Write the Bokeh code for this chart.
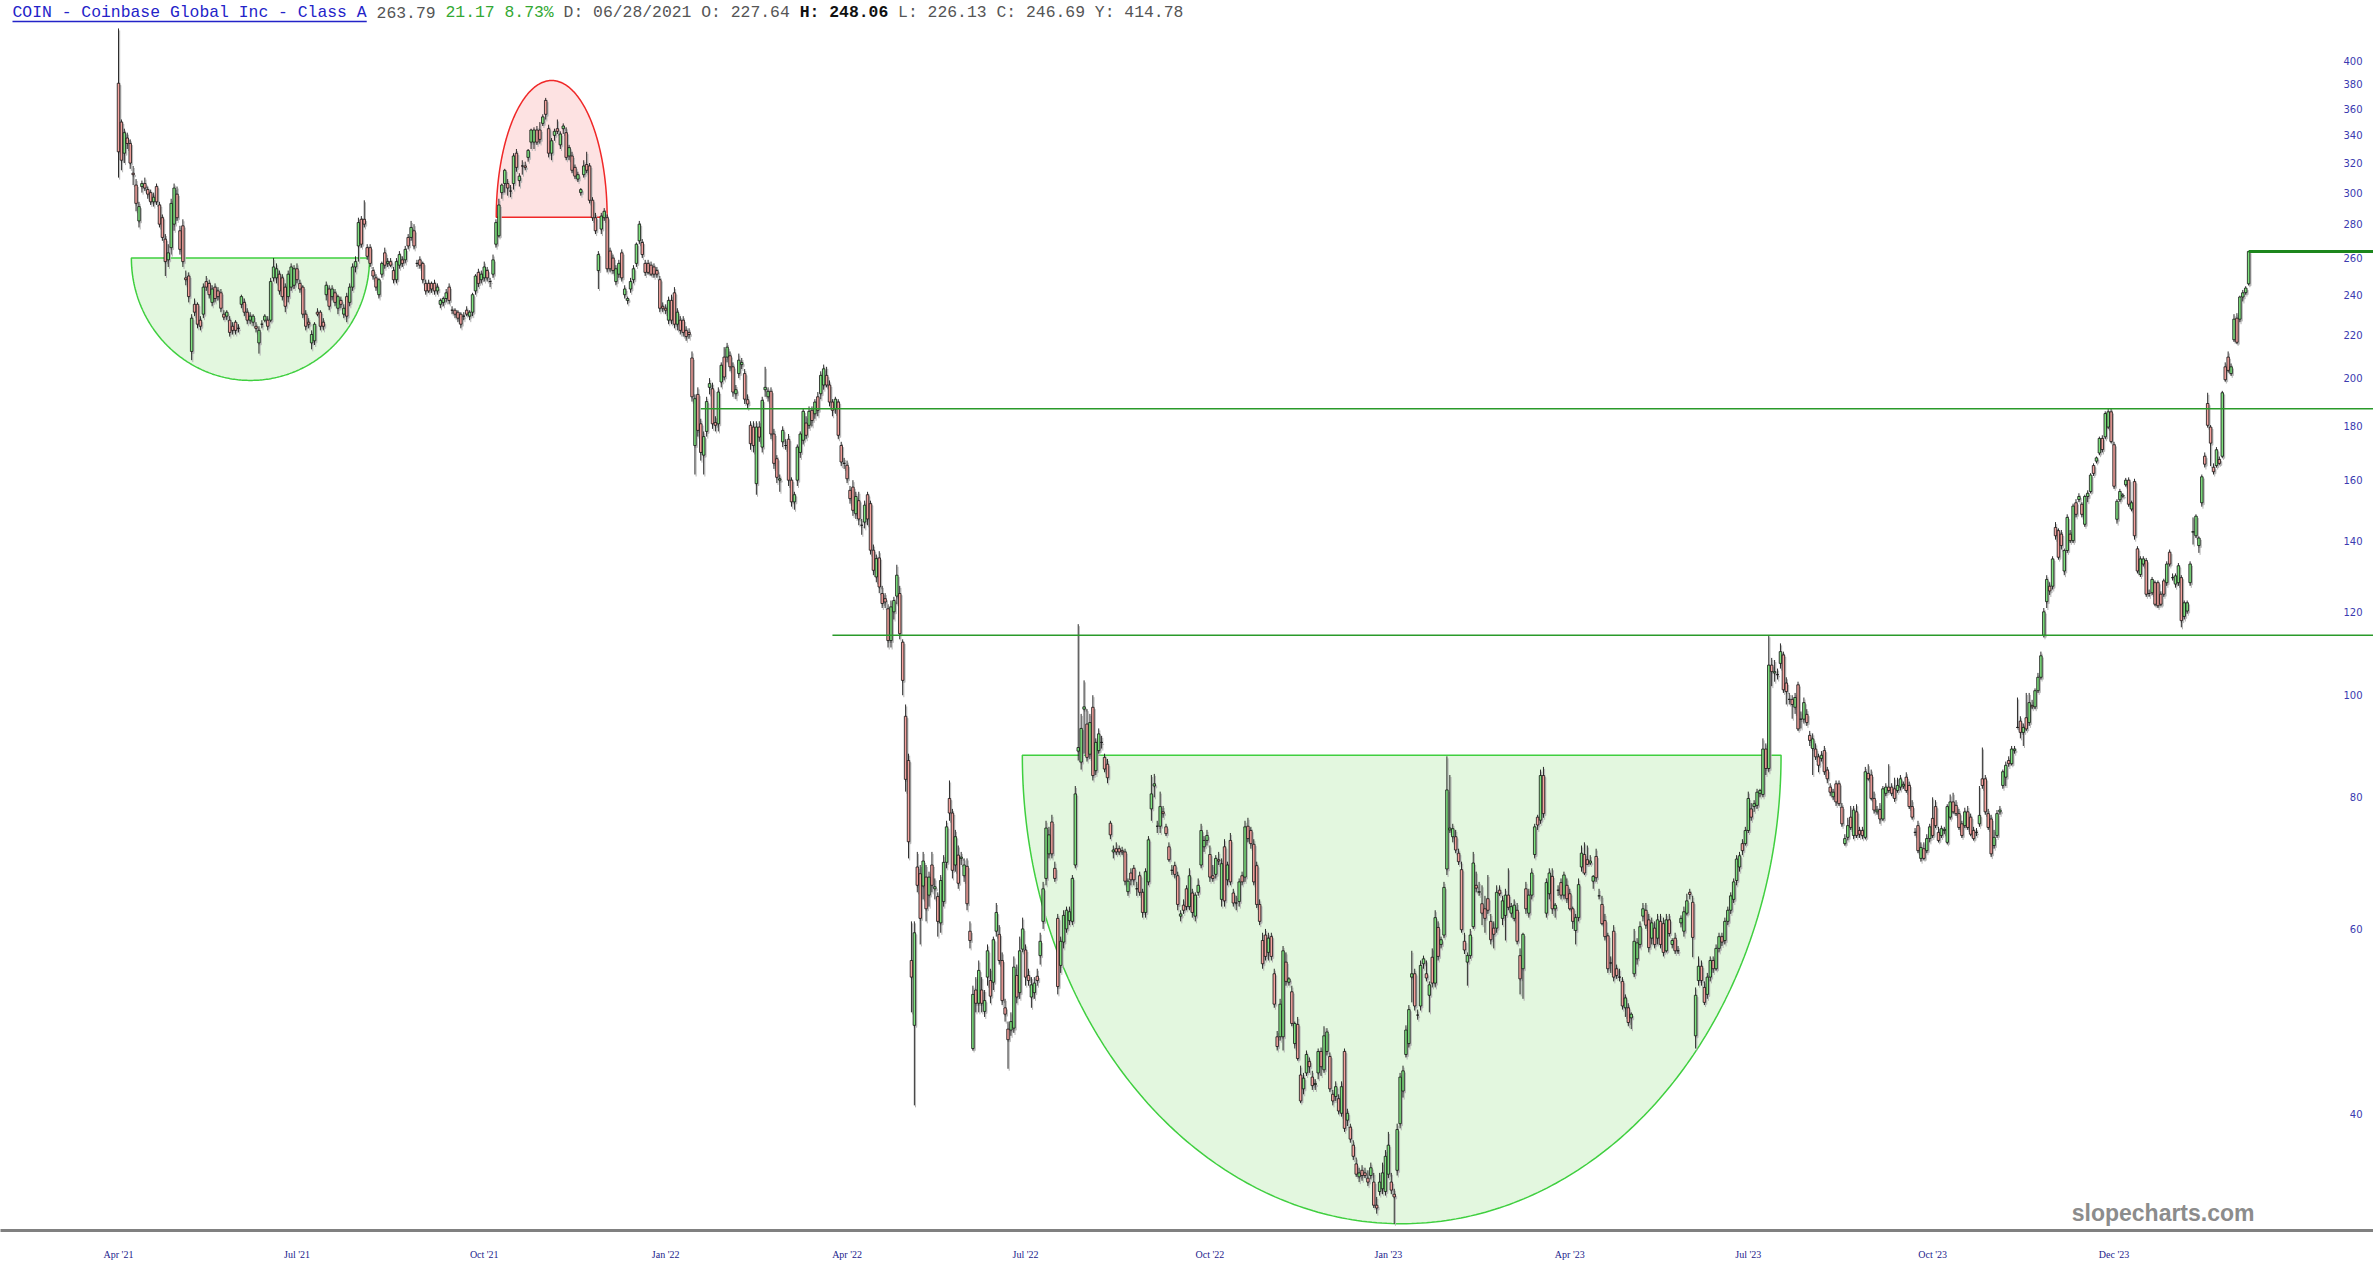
import math
import numpy as np
from bokeh.plotting import figure
from bokeh.models import Range1d, FixedTicker, ColumnDataSource
from bokeh.embed import file_html
from bokeh.resources import INLINE
from bokeh.core.properties import value

# ---------------- data (daily bars, Apr 2021 -> Mar 2024) ----------------
opens = [
 381,350,327,338,334,313,305,282,304,306, 302,300,294,304,292,284,271,259,266,280,
 299,276,279,249,250,212,235,235,227,230, 247,246,236,244,242,241,230,229,227,224,
 226,223,235,236,231,227,226,224,216,225, 227,227,227,249,249,251,249,244,239,244,
 245,254,246,244,230,226,216,217,231,231, 226,240,243,239,241,233,237,230,239,236,
 244,255,267,283,283,266,266,253,249,240, 251,263,257,258,253,248,256,259,259,272,
 272,276,257,259,257,246,246,246,246,242, 235,236,238,244,232,232,231,230,229,232,
 229,231,242,252,248,249,253,247,251,268, 273,300,306,306,301,306,327,308,318,318,
 324,335,335,344,344,349,367,345,327,340, 345,333,345,342,325,325,317,309,300,312,
 319,318,295,284,253,277,284,284,264,260, 247,251,263,240,237,243,248,257,270,269,
 257,257,256,255,253,248,234,233,227,237, 241,225,227,227,222,221,209,172.6,193,181,
 169,178,196,195.4,181.5,181,198.3,209.4,209.4,210, 205,193.3,202,206,202,190.8,180.4,179.7,158.8,179.7,
 172,195,192,194.3,177,167.7,160,174,172.6,175, 160,152.6,160,170,174.6,181.3,180.4,186.4,185,192,
 193.3,197,201.2,197,189.8,187,189.8,172.6,166,165.3, 156.5,157.6,148.7,153,145,146,155,152,137.3,129.5,
 135,124.9,123.5,120.8,112.7,120,124.2,124.9,112.3,95.5, 86.7,56,48.6,68.7,67.7,65.9,67.2,64.6,69,65.5,
 64.4,60.8,63.7,69.4,79.8,77.3,69,70.5,70,67.4, 68.8,59.7,46.2,52.5,51,52.5,50.1,54,53.6,53.4,
 59.7,59.3,56,50.5,48.2,48.1,48.3,54.2,52.2,57.4, 57.3,54.2,51.7,52.2,54.1,56.6,61,67,70.7,75.8,
 68.5,61.4,55.4,58.3,60,61.1,61,69,88.5,86.4, 97,93.9,87.9,97.4,84.8,88.6,90.2,87.3,86,75.6,
 71,71.5,71.5,71.2,71,65.1,67.8,68.5,65.5,67.4, 65,62.2,66.5,78,82,75.1,75.1,77.5,75,71.8,
 68.2,68.9,67.4,61.7,63.2,65.5,63,64.9,61.7,65, 69,71.8,72.8,70.6,67.4,67.6,69.8,64,71.8,66.8,
 72.8,64.9,63.5,63.7,67.4,67.2,75.1,74.4,72.2,68.9, 63.3,58.5,59.2,57,59,54.4,47.4,47.4,47.4,55.8,
 53.4,52.3,46.7,48.7,43.6,42.3,43.8,44.9,43.4,42.7, 43.8,45.9,44.1,45.9,45.4,41.8,41.6,41.4,40.1,45.9,
 39.5,38.9,37.4,35.9,34.9,35.4,35.2,34.8,35,34.5, 32.8,33.8,34,33.8,35.1,34.5,33.6,35.4,39.2,42.1,
 45.6,46.7,54,54.4,49.7,50.7,55.6,54.4,51.9,56.4, 53.3,60.2,58,59.2,68.4,74.5,73.4,73.4,70.8,68.3,
 58.4,55.8,56.6,60.3,66,65,63.4,62.7,64.1,61, 60.1,60.1,65.3,61.4,61.8,64.6,62.1,61.4,62.5,56.6,
 55,65.5,62.1,64.6,70.6,76.6,76.1,83.9,62.1,64.8, 67.3,62.7,65.3,66.4,64.6,66,64.8,62.7,59.8,61.5,
 68.7,70.6,69.8,69.3,66.6,70.3,64.5,63.3,61.1,59.1, 55.7,59.7,55,54,53.5,50.5,50.5,49.4,54.4,56.2,
 58,61.7,62.5,61.2,58.8,60.1,58.8,61,60.7,57.2, 61.2,58,58.8,57.2,60.8,59.7,62.1,65,63.6,47.5,
 53.6,55.3,52.8,52,54,56,55,57.5,59,58.5, 61,62.5,64,66.7,68.7,72.3,72.3,74.4,78,78.4,
 78.6,80.7,80.5,88.9,85.2,106.8,105,104.6,107.2,109.2, 102.7,99.1,99.1,97.4,102.3,94.9,94.9,95.9,91.6,89,
 88.9,87.4,87.1,88.6,84.9,81.8,80.1,82.4,82.4,78.3, 72.3,73.3,76.6,73.6,77.5,74.4,74.4,73.3,84.3,84,
 79.8,77.5,77.9,76.3,80.7,81.8,81.8,81.5,81.2,81.8, 82,83.6,82.1,78.4,74.1,75.2,70,71.5,71.2,73.1,
 76.4,78.4,74.1,73.6,74.4,72.5,76.6,79.2,78.6,77.2, 75.5,75.2,77.5,76.6,74.4,74.1,75.5,83.3,83.3,77.2,
 76.3,72,73.6,77.5,82.1,83.6,86.7,86.1,88.6,93.2, 94.5,92.2,95.2,94.2,97.8,97.5,101,104,114,122.7,
 126.9,126.9,144.3,143.3,142.2,131.2,137.2,142.2,140.2,152.3, 153.4,151.8,145.3,154.4,156.1,165.2,166.8,169.8,175.3,175.9,
 179.7,185.8,172.9,146.9,153.3,154.5,158.4,160,150.2,159.5, 137.7,130.2,133.2,134.2,124.9,125.1,127.9,127.9,124.7,128.4,
 127.9,136.7,129.3,127.5,127.9,129.3,118.8,120.2,127.9,142.8, 141.7,138.7,152.3,168.6,189.2,179.7,164.6,165.2,167.4,168.6,
 205,209.4,202,217.5,228,227.5,238.8,241.1,245.8,
]
highs = [
 429.5,352,345,342,337,318,309,294,308,310, 304,302,300,306,294,286,274,268,296,306,
 304,279,283,253,252,230,238,236,229,246, 250,248,245,246,244,243,232,232,229,226,
 227,225,240,238,233,231,230,226,224,227, 230,229,249,260,257,253,251,246,253,257,
 256,257,248,245,232,228,222,226,233,232, 228,247,245,245,243,240,239,235,241,246,
 257,261,284,285,295,268,268,255,251,249, 258,266,260,260,255,260,264,261,267,274,
 282,280,259,261,258,248,248,247,248,246, 238,239,243,246,234,233,232,231,231,234,
 232,241,251,254,253,258,255,249,262,283, 296,306,316,309,305,327,330,313,322,321,
 330,345,346,347,350,356,369,348,338,345, 352,343,349,346,333,328,319,314,303,322,
 328,320,297,287,264,287,290,286,266,262, 256,259,265,245,239,249,256,269,282,271,
 259,259,258,257,255,250,236,235,239,240, 244,233,229,229,224,223,212,193,196,183,
 178,192,200,198,184,196,207,214,216,212, 207,197,211,209,204,193,182,182,182,182,
 192,205,196,196,179,169,162,180,175,177, 161,156,173,178,187,184,188,188,191,194,
 203,206,205,199,191,192,191,174,168,167, 158,160,156,156,147,153,156,153,139,136,
 137,127,125,122,123,124,133,127,113,98, 88,61,61,71,69,71,69,68,71,67,
 65,67.5,70.5,76,83,78,74.5,72,71,70, 70,61,53,54,56,54,52.5,58,55,59,
 63.5,60.5,57,51.5,49,50,56.5,55.5,59,61.5, 58,55,54,54,55,59.5,66.5,76,75,77,
 69.5,62,59,62.5,63,63,67.5,82,116.8,96, 103.3,97,96,100,91,93,91.5,88,87,76,
 72,72.5,72,71.8,71.5,67,68.5,69,66.5,68, 65.5,68.5,73.5,84,84.2,76,81,78.5,75.5,72.5,
 69,69.5,68,62.5,64,66,68.5,65.5,65,67, 75.5,73.5,74.5,72,69,70.5,71,70,73,69.5,
 74,65.5,64.5,67,68,76,76.5,75,73,69.5, 64,59.5,60,59.5,59.5,55,48,51.5,57.8,57,
 54,53,49,49.5,44.5,43.8,46,45.3,44,43.2, 46.2,46.3,48.5,48.3,45.8,42.2,43,41.8,43,46.2,
 40.5,39.2,37.8,36.4,35.6,35.8,35.6,35.4,36,35.2, 33.4,35.2,36,37,38.5,35.2,34,39.2,43.8,44.5,
 48.6,50.8,57.2,55,50.3,56,56.6,56,53.5,57.5, 62.5,61,59,66.5,87.5,84,75.5,74.5,71.5,69.5,
 59.5,57,60,71,68,66.5,66,64.5,67.5,62, 61,66,66,64.5,65.5,68.5,63.5,64,63.5,57.5,
 59.5,66.5,65.5,68.5,75.5,77,85,85.5,67,68.5, 68.5,63.5,66,67,68,67,65.5,63,62,67,
 72,72.5,72,70.5,67.5,71.5,65.5,64.5,62,59.5, 56.5,60.5,55.5,55,54,52,51,50,60,58.8,
 61,63.5,63.5,62,61.5,61,62,62,61.5,62, 62,58.8,59.5,57.8,61.8,63,64.8,65.5,64.5,52.8,
 56.5,56,53.5,54.5,56.5,56.5,58,59.5,59.5,61.5, 63,65,67,70.5,71,73,75,81,79,79.5,
 81.5,81.5,91,90,114,108.5,108,106,112,110, 104,100.5,100,100.5,103,96.5,99.5,97,92.5,92,
 90,88,88.5,89.5,85.5,82.5,81.5,83,83,79, 73.8,76.5,78.5,78.5,78.8,75,75,85.5,86,85,
 81,78.5,79,82,82.5,86,82.5,83.5,83.5,84, 82.8,84.5,82.8,79.5,74.8,76,72.5,72.5,73.8,75.5,
 80,79.5,75,75.2,75,78.8,80.5,80.8,79.5,78, 76,78.2,78.5,77.2,75,74.8,82,89.2,84,78,
 77,74.5,77.8,78.5,85,86.5,87.5,89.5,89.5,99.5, 95.5,94,100.5,100.5,99,101.5,105,110,121,130,
 128,135.5,146,144,143.5,137.8,148.5,143.5,152,153.5, 155.5,152.5,155,156.5,162.5,166,168.5,176,176.5,186,
 187,187.2,174,153.5,157,155.5,160.8,161,153,160.5, 138.5,135.5,135.5,135,126,129.5,128.5,128.5,125.5,129,
 134,137.5,130.5,130.5,133.5,130,123,123,134,147.5, 148.5,141.5,162,170,193.7,180.5,166,172,168.5,194.5,
 207,212,206.5,230,230.5,239.5,242.5,244.5,263.8,
]
lows = [
 310,315,320,330,316,305,288,278,300,301, 296,292,291,292,278,270,250,255,262,276,
 282,262,255,245,236,208,229,223,222,228, 242,238,234,236,237,231,227,227,219,220,
 220,221,233,229,225,225,224,221,211,223, 226,222,226,247,246,240,237,231,236,242,
 243,246,241,228,222,223,213,215,229,222, 222,237,232,237,234,230,233,228,226,234,
 242,252,258,266,278,259,255,248,242,238, 249,254,255,255,246,246,254,255,257,265,
 270,265,255,254,246,240,241,241,240,240, 233,234,236,235,230,228,226,223,227,229,
 227,229,240,244,246,247,247,244,249,266, 272,296,300,298,297,302,314,304,312,315,
 321,330,330,333,334,347,352,324,322,336, 341,330,341,322,322,313,309,307,298,310,
 313,293,282,274,243,274,282,252,252,251, 245,249,247,238,235,241,246,255,268,260,
 250,251,250,249,249,231,231,230,225,225, 223,222,220,219,217,218,190,162,176,167,
 162,176,193,179,178,178,196,199,207,203, 192,191,200,204,189,187,171,170,155,174,
 170,192,190,175,164,159,156,172,171,158, 151,150,158,168,173,175,179,180,183,184,
 191,195,196,188,184,185,175,165,164,159, 152,148,147,145,142,144,145,136,130,128,
 125,121,121,111,111,118,122,113,100,81, 70,50,40.8,65,58,64,61,63,65,64,
 59,59.5,63,68.5,76,67,68,65.5,69,66.5, 62.5,57.5,46,50,50,50,49.5,53,51,52.5,
 59,55.5,50.8,49,44.2,47.5,47.8,51,51.5,57, 53,53,50.5,51.5,53,55.5,60,66,70,70,
 66.5,52,54.5,57.5,59.5,60.5,60.5,68.5,86.7,85, 88,86.5,87,83,84,88,89,84.5,82.5,73,
 70,70.5,70.5,70.5,66,64.5,66,66,64.5,64.5, 61.5,61.5,66,76,80,74,74,76.5,73.5,69.5,
 67.5,67,62.5,61,62,62.5,62.5,61.5,61,64.5, 68.5,71,72,66.5,66.5,67,69,63,63,66,
 66,63,62.5,63,66,66.5,72.5,71.5,66,62.8, 60.5,55,56,56,56,50.5,46,47,46,53,
 53,48.5,46.2,45,41,41.8,43.5,43.8,42.2,42.2, 43.2,43.5,43.8,45.5,42,40.8,41.2,40,39.8,38.5,
 39,37.6,36.2,34.9,34.5,34.6,34.8,34.2,34.7,32.6, 32.2,33.5,33.6,33.5,34.8,33.6,31.5,35,38.8,41.5,
 45.3,46.3,51.1,50.2,49.2,50.2,55,53.5,50,52.8, 52.8,56,57.5,58.8,67.5,74,72.5,70.8,69,59.5,
 56.8,53,56.2,60,65,64.5,60.5,59.5,62,58, 57.5,59.5,64.5,60.5,58.5,62.5,61.5,61,58,52,
 51.5,62,61.5,64,70,74.5,75.5,76.5,61.5,64, 62,61.5,64.5,64,64,63.5,62.5,60,58,61,
 68,67.5,69,69,65.5,66.5,64,60.5,58.5,54.5, 54.5,53.5,53.8,53.5,50.3,49.5,48.5,48.2,54,55.5,
 57.5,61,60,57,58,57.5,58,57.5,56.5,57, 59,57.5,56.8,56.8,60.2,59,61.8,64,56.4,46.2,
 53,53,50.8,51.5,53.5,54.5,54.8,57,57.8,58, 60.5,62,63.5,66,68,70.5,72,74,76,77.5,
 78,80,80,84,84.5,102,103,103.5,106,100.5, 98,98,95,96,92.5,93,94,93.5,89.5,84,
 86.8,84.5,86.5,84,82.5,80.2,79.5,78.5,78.5,75, 72,72.8,74.5,73,73.2,73.2,73,73,83,79.5,
 77.2,77,75.5,76,80.2,80.8,80.2,79.2,80.8,81.2, 81.5,80.8,78,76.2,73.5,70.8,69.5,69.8,70.8,72.5,
 73.2,74.8,72.5,73.2,73.8,72.2,76.2,77.2,76.8,74.5, 73.2,74.8,74.5,73.5,72.8,73.5,75,81.5,77,74.5,
 70.2,71.5,73.2,77,81.5,82,85.5,85.8,88,93, 91,89.5,92.5,93.5,97,97,100.5,103.5,113.5,121,
 124.5,126,140.5,134.5,137.5,130,136.5,139.5,139.5,147.5, 152.5,147.5,144.5,152.5,155.5,161.5,166,169,170,175,
 179,173.5,157,145.5,152.5,154,157.8,151,149.5,140.5, 130.5,129.5,132.5,124,124,124.5,121.5,121,121.5,124,
 127,132.5,128.5,126.5,127,116,118,119.5,127,139, 141,136.5,151,164.5,179.5,165,162,164.5,165.5,168,
 198.5,202.5,201,216.5,215.5,226,236.5,240,245,
]
closes = [
 328,322,342,334,320,312,293,291,306,303, 299,294,297,294,280,272,258,263,293,303,
 284,265,258,248,239,228,231,225,224,244, 244,240,243,238,239,233,228.5,231,221,222,
 222,223,239,231,227,229,229,223,222,225, 229,224,247,255,254,242,239,234,251,255,
 254,248,243,230,224,225,220,225,230,224, 224,245,234,243,236,239,235,233,229,244,
 255,258,281,268,280,261,257,250,244,248, 257,256,258,256,248,258,262,257,265,267,
 278,267,257,256,248,242,242,243,242,244, 237,238,241,237,232,230,228,225,229,230,
 231,240,250,246,251,255,249,247,259,281, 292,305,315,303,301,325,317,311,318,317,
 329,344,344,335,337,354,356,327,336,343, 343,341,347,324,331,315,311,312,302,318,
 315,295,284,276,262,285,288,254,254,253, 254,257,249,243,238,247,254,268,280,262,
 252,252,251,251,251,233,233,232,237,227, 225,231,222,221,219,220,192,191.2,178.4,170,
 176,190,197.6,181,180.4,194,205.7,200.5,214,205, 194,195,208,207,191,189,173.3,172.6,179.7,175.8,
 190.5,196,194.3,177,166,161,160.5,178.4,172.6,160, 152.6,155,172,177,186,176.5,186,182.3,189.8,186.4,
 201.2,204.1,197,189.8,186.4,191,176.5,166.5,166,160.5, 153.7,149.8,154.4,147,145,151.5,147,137.3,131.4,134.8,
 126.7,122.2,122.6,112.7,121.3,123,130,114.4,103.3,83.2, 72.6,54,59.5,66,61.4,69.6,62.7,67.2,66,65.8,
 61,66.7,69.4,75,77.3,68.2,73.4,66.3,70.2,69, 63.4,58.5,52,51,54.8,51,51.3,57.2,51.8,58.6,
 62.2,56,51.3,49.8,47.1,49,55.2,51.7,57.2,60, 54,53.6,53.1,53.3,53.6,58.4,65.5,74.8,73.7,70.7,
 67,52.9,58.4,61.8,62.5,62.3,67,80.6,89.2,93, 97.5,87.3,94.2,83.9,90.2,91.9,90.2,85.1,83.5,73.7,
 71.3,71,71,71,66.6,66.6,66.8,66.8,65.5,65, 62.2,68,72.9,80.6,82.4,75.1,78.4,77.2,73.9,69.8,
 68.2,67.6,63.3,62,62.5,63,67.4,62.2,64.6,66, 74.4,72.8,73.6,67.2,67,70,69.6,69.2,63.8,69,
 66.5,63.5,63.5,66.5,66.5,75,73.1,72.3,66.5,63.3, 61,55.6,56.5,58.8,56.5,50.9,46.4,50.9,57.2,53.5,
 53.8,48.8,48.8,45.2,41.2,43.3,45.6,44.4,42.6,42.8, 45.9,44.4,47.5,47.9,42.3,41.2,42.5,40.3,42.5,38.8,
 40.1,37.9,36.5,35.1,35.2,35,35,34.5,35.6,32.8, 32.6,34.5,35.2,36.5,37.4,33.9,33.4,38.7,43.4,44,
 48.1,50.3,54.4,50.7,49.7,55.4,56.2,53.9,53.1,53.3, 61.5,56.5,58.6,65.7,81.3,74.8,74.7,71.3,69.5,59.9,
 57.3,56.6,59.2,69.3,65.6,65.1,62.1,61.4,62.5,58.6, 59.3,65,64.8,63.8,64.6,62.9,63,63.2,58.4,53.8,
 59.3,62.7,64.6,67.8,75,75.3,83.9,77.2,66.4,67.8, 62.7,63.2,65.3,64.6,67.5,64.1,62.7,61,61.5,66.1,
 70.8,67.8,69.1,69.6,67.3,67.1,64.5,60.7,59,55, 55.7,54,54.2,54,50.7,51.6,48.9,49.8,58.4,58.2,
 60.3,62.7,60.5,57.6,60.8,58,61.2,58,57,61.2, 59.4,58.5,57.2,57.2,61.4,62.3,63.8,64.7,58.9,51.9,
 55.3,53.6,51.1,54,56,55,57.5,59,58.3,61, 62.5,64.5,66.5,69.9,70.4,71.2,74.4,79.8,76.6,78.9,
 80.9,81.2,88.9,85.2,106.8,105.3,105.3,104.6,110,101.2, 100.8,99.1,98,99.5,92.9,94.9,98.4,94.2,90.6,90.9,
 87.4,85.8,87.7,84.6,83.3,80.9,80.9,79.2,78.9,75.5, 73.1,75.2,74.9,77.8,73.6,73.8,73.6,84.6,83.3,79.8,
 77.8,77.8,76.3,81.5,81.8,81.2,80.7,79.8,82.1,83.3, 82.3,81.2,78.4,76.6,74.1,71.2,71.7,70,73.1,75,
 73.6,75.2,72.8,74.7,74.6,78.4,79.2,77.5,77.2,74.9, 73.6,77.5,74.9,73.8,73.1,74.1,76.9,82.1,77.5,74.9,
 70.7,73.3,77.2,77.8,84.6,85.8,86.1,88.9,88.9,93.2, 92.2,93.2,92.9,98.4,97.5,101,104,109,120,128.8,
 125.6,134.7,141.7,135.2,138.7,137.2,147.5,140.2,151.2,148.5, 154.4,148.5,154.4,155.5,161.8,162.4,168,175.3,171.1,185.1,
 185.8,174.1,157.9,152.8,156.1,154.9,160,151.8,152.3,141.7, 131.2,134.7,134.7,124.7,124.9,128.8,122,121.6,122,124.7,
 133.2,133.2,129.3,129.8,132.7,117.7,122.4,122.4,133.2,143, 147.9,141,161.2,165.7,180.4,173.5,163,171,166,193.7,
 199.3,203.4,205,227.5,216.3,238.8,241,243.5,263.8,
]

date_tick_bars = [0, 61, 125, 187, 249, 310, 373, 434, 496, 557, 620, 682]
date_tick_labels = ["Apr '21", "Jul '21", "Oct '21", "Jan '22", "Apr '22", "Jul '22",
                    "Oct '22", "Jan '23", "Apr '23", "Jul '23", "Oct '23", "Dec '23"]
price_ticks = [40, 60, 80, 100, 120, 140, 160, 180, 200, 220, 240, 260, 280, 300, 320, 340, 360, 380, 400]

symbol = "COIN"
company = "Coinbase Global Inc - Class A"
last_price = 263.79
change_abs = 21.17
change_pct = 8.73
hover_date = "06/28/2021"
hover_open, hover_high, hover_low, hover_close, hover_y = 227.64, 248.06, 226.13, 246.69, 414.78

# drawn studies: horizontal levels, cups and dome (bar index / price)
level_prices = [187.0, 114.0]
level_start_bars = [199, 244]
cup_left_bars = [4.4, 308.9]
cup_right_bars = [85.8, 568.2]
cup_rim_prices = [260.0, 87.7]
cup_bottom_prices = [199.0, 31.5]
dome_left_bar = 129.1
dome_right_bar = 167.0
dome_base_price = 284.3
dome_peak_price = 383.3

n = len(closes)
assert len(opens) == n and len(highs) == n and len(lows) == n, (len(opens), len(highs), len(lows), n)

# ---------------- layout (page has no body margin: figure at 0,0) ----------------
W, H = 2373, 1268
FH = 1230                 # frame height, x-axis line at the bottom of the frame
BOTTOM = H - FH
BAR_PX = 2.926
X0_PX = 118.0
PX_PER_LN = 457.5
Y400_PX = 60.5

x_start = -X0_PX / BAR_PX
x_end = x_start + W / BAR_PX
y_hi = 400 * math.exp(Y400_PX / PX_PER_LN)
y_lo = y_hi * math.exp(-FH / PX_PER_LN)


def sx(px):
    return x_start + px / BAR_PX


def sy(py):
    return y_hi * math.exp(-py / PX_PER_LN)


p = figure(width=W, height=H, x_range=Range1d(x_start, x_end), y_range=Range1d(y_lo, y_hi),
           y_axis_type="log", y_axis_location=None, x_axis_location="below",
           output_backend="svg", toolbar_location=None,
           min_border_left=0, min_border_right=0, min_border_top=0, min_border_bottom=BOTTOM)
p.background_fill_color = "white"
p.border_fill_color = "white"
p.outline_line_color = None
p.xgrid.visible = False
p.ygrid.visible = False

ax = p.xaxis[0]
ax.ticker = FixedTicker(ticks=date_tick_bars)
ax.major_label_overrides = {b: lab for b, lab in zip(date_tick_bars, date_tick_labels)}
ax.axis_line_color = "#808080"
ax.axis_line_width = 3
ax.major_tick_line_color = None
ax.minor_tick_line_color = None
ax.major_label_standoff = 12
ax.major_label_text_font = "Liberation Serif"
ax.major_label_text_font_size = "10px"
ax.major_label_text_color = "#22228c"


# ---------------- studies (under candles) ----------------
def half_ellipse(xl, xr, level, extreme, k=241):
    t = np.linspace(0, np.pi, k)
    cx = (xl + xr) / 2.0
    rx = (xr - xl) / 2.0
    xs = cx + rx * np.cos(t)
    ys = np.exp(np.log(level) + (np.log(extreme) - np.log(level)) * np.sin(t))
    return xs, ys


for xl, xr, rim, bot in zip(cup_left_bars, cup_right_bars, cup_rim_prices, cup_bottom_prices):
    xs, ys = half_ellipse(xl, xr, rim, bot)
    p.patch(xs, ys, fill_color="#e3f7df", fill_alpha=1.0, line_color="#3fcf3f", line_width=1.5)

xs, ys = half_ellipse(dome_left_bar, dome_right_bar, dome_base_price, dome_peak_price)
p.patch(xs, ys, fill_color="#fde2e2", fill_alpha=1.0, line_color="#f02828", line_width=1.5)

# ---------------- candles ----------------
idx = list(range(n))
tops = [max(o, c) for o, c in zip(opens, closes)]
bots = [min(o, c) for o, c in zip(opens, closes)]
fills = ["#7fe27f" if c >= o else "#f4a29e" for o, c in zip(opens, closes)]

BODY_W = 0.85
shift_x = 0.4
shift_f = math.exp(-2.0 / PX_PER_LN)
shadow = ColumnDataSource(dict(
    x=[i + shift_x for i in idx],
    h=[v * shift_f for v in highs], l=[v * shift_f for v in lows],
    t=[v * shift_f for v in tops], b=[v * shift_f for v in bots]))
p.segment(x0="x", y0="l", x1="x", y1="h", source=shadow, line_color="#b4b4b4", line_width=1)
p.vbar(x="x", width=BODY_W, top="t", bottom="b", source=shadow,
       fill_color="#b4b4b4", line_color="#b4b4b4", line_width=0.8)

src = ColumnDataSource(dict(x=idx, h=highs, l=lows, t=tops, b=bots, f=fills))
p.segment(x0="x", y0="l", x1="x", y1="h", source=src, line_color="#151515", line_width=0.9)
p.vbar(x="x", width=BODY_W, top="t", bottom="b", source=src,
       fill_color="f", line_color="#151515", line_width=0.8)

# ---------------- horizontal levels ----------------
p.segment(x0=level_start_bars, y0=level_prices, x1=[x_end] * len(level_prices), y1=level_prices,
          line_color="#2a9a2a", line_width=1.5)
p.segment(x0=[n - 1], y0=[closes[-1]], x1=[x_end], y1=[closes[-1]],
          line_color="#1c861c", line_width=3)

# ---------------- price labels (inside, right) ----------------
p.text(x=[sx(2362)] * len(price_ticks), y=price_ticks, text=[str(v) for v in price_ticks],
       text_align="right", text_baseline="middle", text_font=value("DejaVu Sans"),
       text_font_size="10px", text_color="#3a3ab0")

# ---------------- header ----------------
FONT_PX = 16.4
CHAR = FONT_PX * 0.6
pieces = [
    (f"{symbol} - {company}", "#2323c8", "normal"),
    (f" {last_price:.2f}", "#555555", "normal"),
    (f" {change_abs:.2f} {change_pct:.2f}%", "#33a833", "normal"),
    (f" D: {hover_date} O: {hover_open:.2f}", "#555555", "normal"),
    (f" H: {hover_high:.2f}", "#111111", "bold"),
    (f" L: {hover_low:.2f} C: {hover_close:.2f} Y: {hover_y:.2f}", "#555555", "normal"),
]
X_TXT = 12
pos = 0
hy = sy(12)
for txt, col, style in pieces:
    lead = len(txt) - len(txt.lstrip(" "))
    p.text(x=[sx(X_TXT + (pos + lead) * CHAR)], y=[hy], text=[txt.strip()], text_align="left",
           text_baseline="middle", text_font=value("Liberation Mono"), text_font_size=f"{FONT_PX}px",
           text_color=col, text_font_style=style)
    pos += len(txt)
title_len = len(pieces[0][0])
p.segment(x0=[sx(X_TXT)], y0=[sy(21)], x1=[sx(X_TXT + title_len * CHAR)], y1=[sy(21)],
          line_color="#2323c8", line_width=1.5)

# ---------------- watermark ----------------
p.text(x=[sx(2254)], y=[sy(1212)], text=["slopecharts.com"], text_align="right",
       text_baseline="middle", text_font=value("Liberation Sans"), text_font_size="23px",
       text_font_style="bold", text_color="#8c8c8c")

open("out.html", "w").write(file_html(p, INLINE))
